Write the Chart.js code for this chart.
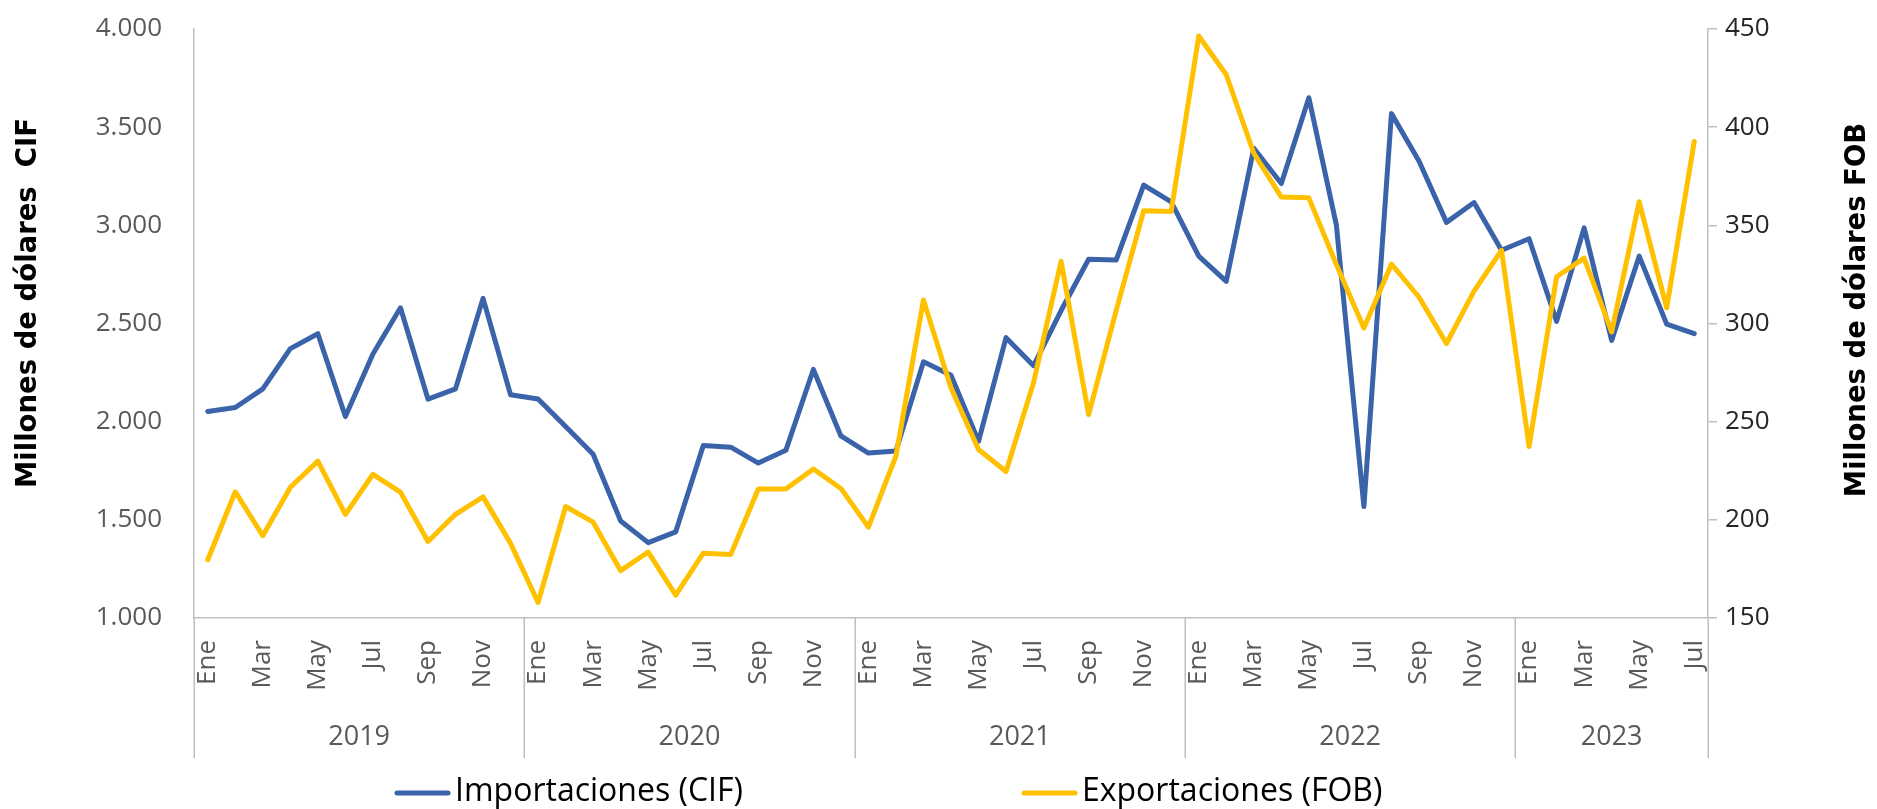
<!DOCTYPE html>
<html><head><meta charset="utf-8">
<script src="https://cdn.jsdelivr.net/npm/chart.js@4/dist/chart.umd.min.js"></script>
<style>html,body{margin:0;padding:0;background:#fff;overflow:hidden}</style>
</head><body>
<canvas id="c" width="1877" height="809"></canvas>
<script>
// ---- data ----
const monthNames = ['Ene','Feb','Mar','Abr','May','Jun','Jul','Ago','Sep','Oct','Nov','Dic'];
const years = ['2019','2020','2021','2022','2023'];
const monthsPerYear = [12,12,12,12,7];
const categories = [];
years.forEach((y,k)=>{ for(let m=0;m<monthsPerYear[k];m++) categories.push(monthNames[m]); });

// Millones de dólares CIF (eje izquierdo)
const importaciones = [
  2052,2072,2167,2372,2448,2026,2345,2580,2115,2167,2628,2137,
  2115,1975,1834,1494,1384,1439,1878,1870,1789,1854,2266,1927,
  1840,1850,2305,2236,1900,2428,2285,2566,2827,2823,3205,3120,
  2843,2715,3393,3213,3650,3001,1568,3569,3328,3015,3116,2873,
  2932,2511,2987,2414,2843,2497,2448
];
// Millones de dólares FOB (eje derecho)
const exportaciones = [
  179.7,214.3,191.9,216.6,229.9,202.8,223.2,214.1,189.0,202.8,211.7,188.0,
  157.9,206.8,198.8,174.1,183.6,161.7,183.0,182.4,215.7,215.7,225.9,216.0,
  196.3,232.5,312.0,267.1,235.8,224.6,270.0,331.7,253.6,306.6,357.4,357.1,
  446.4,426.7,386.7,364.4,364.0,330.0,297.7,330.2,313.5,289.8,316.5,337.3,
  237.4,323.8,333.3,295.7,362.0,308.0,392.7
];
const leftAxis = {min:1000, max:4000, step:500};
const rightAxis = {min:150, max:450, step:50};
const seriesNames = ['Importaciones (CIF)','Exportaciones (FOB)'];
const axisTitles = ['Millones de dólares  CIF','Millones de dólares FOB'];

// ---- helpers ----
const fmt = v => String(v).replace(/\B(?=(\d{3})+(?!\d))/g,'.');
const yearStarts = []; let acc = 0;
monthsPerYear.forEach(n=>{ yearStarts.push(acc); acc += n; });
const totalMonths = acc;
const yearCenters = monthsPerYear.map((n,k)=> yearStarts[k] + n/2);
const boundaries = [...yearStarts, totalMonths];

const BLUE = '#3a63a9', YELLOW = '#ffc000', GRIDC = '#bfbfbf';

const decor = {
  id:'decor',
  afterDraw(chart){
    const ctx = chart.ctx, xs = chart.scales.x, ca = chart.chartArea;
    ctx.save();
    // year separators
    ctx.strokeStyle = GRIDC; ctx.lineWidth = 1.5;
    boundaries.forEach(b=>{
      const px = Math.round(xs.getPixelForValue(b - 0.5)) + 0.25;
      ctx.beginPath(); ctx.moveTo(px, ca.bottom); ctx.lineTo(px, 758); ctx.stroke();
    });
    // axis titles (both read bottom-to-top)
    ctx.fillStyle = '#000';
    ctx.font = 'bold 27.5px "DejaVu Sans"';
    ctx.textAlign = 'center'; ctx.textBaseline = 'middle';
    [[29,303,axisTitles[0]],[1858,310,axisTitles[1]]].forEach(([x,y,t])=>{
      ctx.save(); ctx.translate(x,y); ctx.rotate(-Math.PI/2); ctx.fillText(t,0,0); ctx.restore();
    });
    // legend
    ctx.font = '32px "Open Sans"';
    ctx.textAlign = 'left'; ctx.textBaseline = 'middle';
    const items = [[395, chart.data.datasets[0]],[1022, chart.data.datasets[1]]];
    items.forEach(([x,ds])=>{
      ctx.strokeStyle = ds.borderColor; ctx.lineWidth = 5; ctx.lineCap = 'round';
      ctx.beginPath(); ctx.moveTo(x+2,793); ctx.lineTo(x+53,793); ctx.stroke();
      ctx.fillStyle = '#000';
      ctx.fillText(ds.label, x+60, 792);
    });
    ctx.restore();
  }
};

new Chart(document.getElementById('c'), {
  type:'line',
  data:{
    labels: categories,
    datasets:[
      {label:seriesNames[0], data:importaciones, yAxisID:'y', borderColor:BLUE, backgroundColor:BLUE,
       borderWidth:5, pointRadius:0, tension:0, borderJoinStyle:'round', borderCapStyle:'round', order:1},
      {label:seriesNames[1], data:exportaciones, yAxisID:'y1', borderColor:YELLOW, backgroundColor:YELLOW,
       borderWidth:5, pointRadius:0, tension:0, borderJoinStyle:'round', borderCapStyle:'round', order:0}
    ]
  },
  options:{
    responsive:false, animation:false, devicePixelRatio:1,
    layout:{padding:{top:29,left:0,right:0,bottom:46}},
    plugins:{legend:{display:false}, tooltip:{enabled:false}},
    scales:{
      x:{
        type:'category', position:'bottom', offset:true, weight:1,
        grid:{display:false, drawTicks:false},
        border:{display:true, color:GRIDC, width:1.5},
        ticks:{autoSkip:false, minRotation:90, maxRotation:90, padding:22, color:'#595959',
          font:{family:'Open Sans', size:26},
          callback:(v,i)=> i%2===0 ? categories[i] : ''},
        afterFit:s=>{ s.height = 90; }
      },
      xYear:{
        type:'linear', position:'bottom', min:0, max:totalMonths, weight:2,
        grid:{display:false, drawTicks:false}, border:{display:false},
        afterBuildTicks:s=>{ s.ticks = yearCenters.map(v=>({value:v})); },
        ticks:{autoSkip:false, minRotation:0, maxRotation:0, padding:13, color:'#595959',
          font:{family:'Open Sans', size:27},
          callback:(v,i)=> years[i]},
        afterFit:s=>{ s.height = 55; }
      },
      y:{
        position:'left', min:leftAxis.min, max:leftAxis.max,
        grid:{display:true, drawOnChartArea:false, drawTicks:true, tickLength:28, color:'rgba(0,0,0,0)'},
        border:{display:true, color:GRIDC, width:1.5},
        ticks:{stepSize:leftAxis.step, padding:4, color:'#595959',
          font:{family:'Open Sans', size:26}, callback:v=>fmt(v)},
        afterFit:s=>{ s.width = 194; }
      },
      y1:{
        position:'right', min:rightAxis.min, max:rightAxis.max,
        grid:{drawOnChartArea:false, drawTicks:true, tickLength:9, color:GRIDC, lineWidth:1.5},
        border:{display:true, color:GRIDC, width:1.5},
        ticks:{stepSize:rightAxis.step, padding:8, color:'#262626',
          font:{family:'Open Sans', size:26}},
        afterFit:s=>{ s.width = 169; }
      }
    }
  },
  plugins:[decor]
});
</script>
</body></html>
